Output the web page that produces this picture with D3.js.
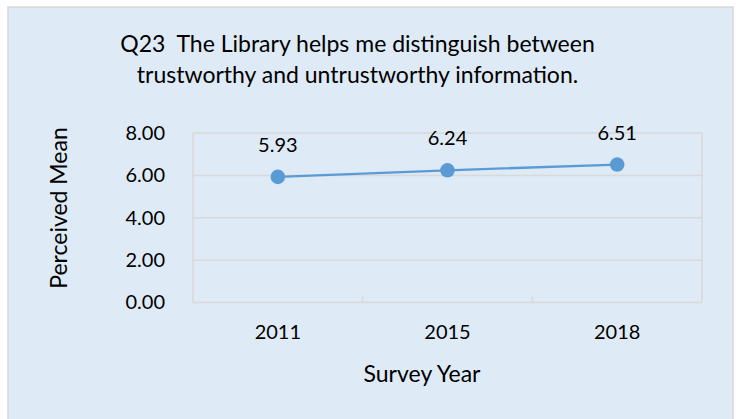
<!DOCTYPE html>
<html>
<head>
<meta charset="utf-8">
<script src="https://cdn.jsdelivr.net/npm/d3@7"></script>
<style>
  body { margin: 0; background: #fff; }
  text { font-family: Lato, "Open Sans", sans-serif; fill: #000; }
</style>
</head>
<body>
<script>
// data
var years = ["2011", "2015", "2018"];
var means = [5.93, 6.24, 6.51];
var yTicks = [0, 2, 4, 6, 8];
var titleLines = ["Q23  The Library helps me distinguish between",
                  "trustworthy and untrustworthy information."];
var xTitle = "Survey Year";
var yTitle = "Perceived Mean";

var W = 736, H = 419;
var plot = {left: 193, right: 702, top: 133, bottom: 302.5};

var svg = d3.select("body").append("svg")
    .attr("width", W)
    .attr("height", H);

// chart panel
svg.append("rect")
    .attr("x", 8).attr("y", 7)
    .attr("width", 725).attr("height", 420)
    .attr("fill", "#DEEAF6")
    .attr("stroke", "#D9D9D9")
    .attr("stroke-width", 1.5);

var x = d3.scaleBand().domain(years).range([plot.left, plot.right]);
var y = d3.scaleLinear().domain([0, 8]).range([plot.bottom, plot.top]);

// gridlines
svg.selectAll(".grid")
    .data(yTicks)
  .enter().append("line")
    .attr("class", "grid")
    .attr("x1", plot.left).attr("x2", plot.right)
    .attr("y1", function(d) { return y(d); })
    .attr("y2", function(d) { return y(d); })
    .attr("stroke", "#D9D9D9")
    .attr("stroke-width", 1.5);

// plot area sides
svg.selectAll(".side")
    .data([plot.left, plot.right])
  .enter().append("line")
    .attr("class", "side")
    .attr("x1", function(d) { return d; }).attr("x2", function(d) { return d; })
    .attr("y1", plot.top).attr("y2", plot.bottom)
    .attr("stroke", "#D9D9D9")
    .attr("stroke-width", 1.5);

// x tick marks between categories
svg.selectAll(".xtick")
    .data(years.slice(1))
  .enter().append("line")
    .attr("class", "xtick")
    .attr("x1", function(d) { return x(d); }).attr("x2", function(d) { return x(d); })
    .attr("y1", plot.bottom).attr("y2", plot.bottom - 7)
    .attr("stroke", "#D9D9D9")
    .attr("stroke-width", 1.5);

// y axis labels
var yAxis = svg.append("g")
    .attr("transform", "translate(" + plot.left + ",0)")
    .call(d3.axisLeft(y).tickValues(yTicks).tickFormat(d3.format(".2f")).tickSize(0).tickPadding(28));
yAxis.select(".domain").remove();
yAxis.selectAll("text").style("font-size", "20px").attr("fill", "#000");

// x axis labels
var xAxis = svg.append("g")
    .attr("transform", "translate(0," + plot.bottom + ")")
    .call(d3.axisBottom(x).tickSize(0).tickPadding(22));
xAxis.select(".domain").remove();
xAxis.selectAll("text").style("font-size", "20px").attr("fill", "#000");

// line and markers
var pts = years.map(function(d, i) { return {year: d, value: means[i]}; });
var line = d3.line()
    .x(function(d) { return x(d.year) + x.bandwidth() / 2; })
    .y(function(d) { return y(d.value); });

svg.append("path")
    .datum(pts)
    .attr("d", line)
    .attr("fill", "none")
    .attr("stroke", "#5B9BD5")
    .attr("stroke-width", 2.25);

svg.selectAll(".dot")
    .data(pts)
  .enter().append("circle")
    .attr("class", "dot")
    .attr("cx", function(d) { return x(d.year) + x.bandwidth() / 2; })
    .attr("cy", function(d) { return y(d.value); })
    .attr("r", 7.3)
    .attr("fill", "#5B9BD5");

svg.selectAll(".lbl")
    .data(pts)
  .enter().append("text")
    .attr("class", "lbl")
    .attr("x", function(d) { return x(d.year) + x.bandwidth() / 2; })
    .attr("y", function(d) { return y(d.value) - 25; })
    .attr("text-anchor", "middle")
    .style("font-size", "20px")
    .text(function(d) { return d.value.toFixed(2); });

// titles
svg.selectAll(".title")
    .data(titleLines)
  .enter().append("text")
    .attr("class", "title")
    .attr("x", 357.5)
    .attr("y", function(d, i) { return 52 + i * 30.7; })
    .attr("text-anchor", "middle")
    .style("font-size", "23px")
    .style("white-space", "pre")
    .text(function(d) { return d; });

svg.append("text")
    .attr("x", 422).attr("y", 381.7)
    .attr("text-anchor", "middle")
    .style("font-size", "23px")
    .text(xTitle);

svg.append("text")
    .attr("transform", "translate(67,208)rotate(-90)")
    .attr("text-anchor", "middle")
    .style("font-size", "23px")
    .text(yTitle);
</script>
</body>
</html>
